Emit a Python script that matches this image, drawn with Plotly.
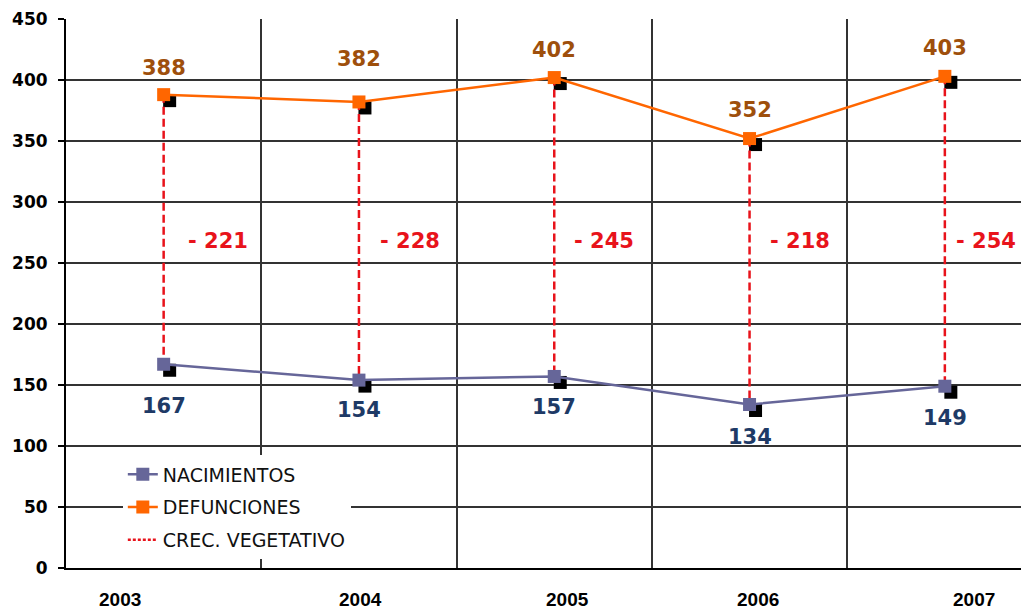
import plotly.graph_objects as go

years = ["2003", "2004", "2005", "2006", "2007"]
nacimientos = [167, 154, 157, 134, 149]
defunciones = [388, 382, 402, 352, 403]
crecimiento = [-221, -228, -245, -218, -254]

# layout helpers (pixel geometry; page body adds an 8px offset)
W, H = 1021, 602
ML, MR, MT, MB = 58, 0, 11, 42
CAT_PX = 195.3
plot_w = W - ML - MR
plot_h = H - MT - MB
xmax = -0.5 + plot_w / CAT_PX
px_x = 1.0 / CAT_PX
px_y = 450.0 / plot_h
SH = 6  # shadow offset in px

xs = list(range(len(years)))

ORANGE = "#FF6600"
PURPLE = "#666699"
RED = "#E8131B"
BROWN = "#9E4F0C"
NAVY = "#1E3A66"

fig = go.Figure()

# shadows
for vals in (defunciones, nacimientos):
    fig.add_trace(go.Scatter(
        x=[x + SH * px_x for x in xs], y=[v - SH * px_y for v in vals],
        mode="markers", marker=dict(symbol="square", size=13, color="black"),
        showlegend=False, hoverinfo="skip"))

# dashed connectors
cx, cy = [], []
for x, d, n in zip(xs, defunciones, nacimientos):
    cx += [x, x, None]
    cy += [d, n, None]
fig.add_trace(go.Scatter(x=cx, y=cy, mode="lines",
                         line=dict(color=RED, width=2.5, dash="8px,4px"),
                         showlegend=False, hoverinfo="skip"))

fig.add_trace(go.Scatter(x=xs, y=nacimientos, mode="lines+markers", name="NACIMIENTOS",
                         line=dict(color=PURPLE, width=2.5),
                         marker=dict(symbol="square", size=13, color=PURPLE),
                         legendgroup="a"))
fig.add_trace(go.Scatter(x=xs, y=defunciones, mode="lines+markers", name="DEFUNCIONES",
                         line=dict(color=ORANGE, width=2.5),
                         marker=dict(symbol="square", size=13, color=ORANGE),
                         legendgroup="b"))
fig.add_trace(go.Scatter(x=[None], y=[None], mode="lines", name="CREC. VEGETATIVO",
                         line=dict(color=RED, width=2.5, dash="3px,2px"),
                         legendgroup="c"))

def_off = [27, 43, 28, 29, 28]
nac_off = [42, 30, 31, 32, 32]
diff_dx = [22, 19, 18, 18, 9]
for x, d, n, c, do, no, dx in zip(xs, defunciones, nacimientos, crecimiento,
                                  def_off, nac_off, diff_dx):
    fig.add_annotation(x=x, y=d, text=f"<b>{d}</b>", showarrow=False, yshift=do,
                       font=dict(family="DejaVu Sans", size=21, color=BROWN))
    fig.add_annotation(x=x, y=n, text=f"<b>{n}</b>", showarrow=False, yshift=-no,
                       font=dict(family="DejaVu Sans", size=21, color=NAVY))
    fig.add_annotation(x=x, y=268, text=f"<b>- {abs(c)}</b>", showarrow=False,
                       xanchor="left", xshift=dx,
                       font=dict(family="DejaVu Sans", size=21, color=RED))

year_pos = [-0.221, 1.010, 2.070, 3.043, 4.149]
for p, yl in zip(year_pos, years):
    fig.add_annotation(x=p, y=0, xref="x", yref="paper", text=f"<b>{yl}</b>",
                       showarrow=False, yshift=-44,
                       font=dict(family="Liberation Sans", size=19, color="black"))

fig.update_layout(
    width=W, height=H,
    margin=dict(l=ML, r=MR, t=MT, b=MB, autoexpand=False),
    plot_bgcolor="white", paper_bgcolor="white",
    showlegend=True,
    legend=dict(x=0.059, y=0.205, xanchor="left", yanchor="top",
                bgcolor="white", traceorder="grouped", tracegroupgap=5,
                font=dict(family="DejaVu Sans", size=19, color="#111111")),
    xaxis=dict(range=[-0.5, xmax], tickmode="array", automargin=False,
               tickvals=[i - 0.5 for i in range(len(years) + 1)],
               showticklabels=False, ticks="", showgrid=True,
               gridcolor="#333333", gridwidth=1.5, zeroline=False,
               showline=True, linecolor="black", linewidth=2),
    yaxis=dict(range=[0, 450], tick0=0, dtick=50, showgrid=True, automargin=False,
               gridcolor="#333333", gridwidth=1.5, zeroline=False,
               showline=True, linecolor="black", linewidth=2,
               ticks="outside", ticklen=6, tickcolor="black", tickwidth=1.5,
               ticklabelstandoff=7,
               tickfont=dict(family="DejaVu Sans", size=17, color="black",
                             weight="bold")),
)

fig.write_html("out.html")
